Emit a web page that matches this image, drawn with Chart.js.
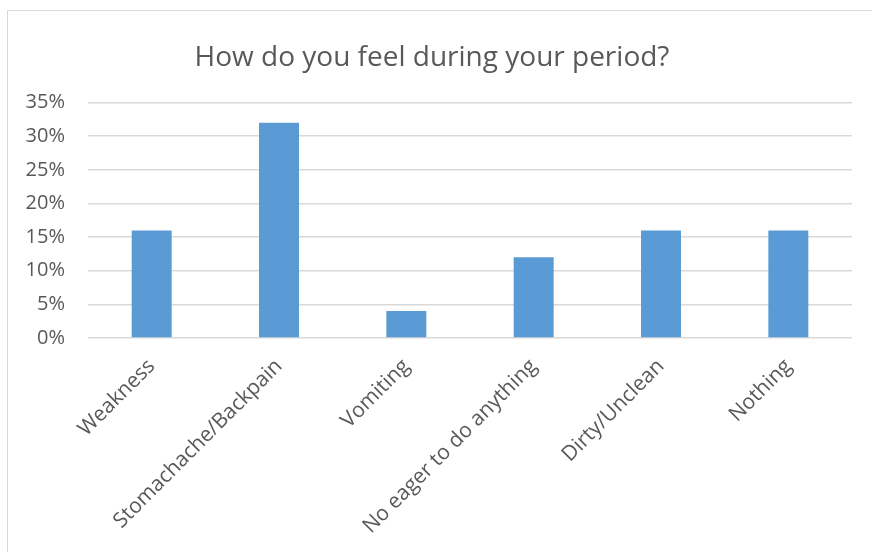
<!DOCTYPE html>
<html>
<head>
<meta charset="utf-8">
<script src="https://cdn.jsdelivr.net/npm/chart.js@4/dist/chart.umd.min.js"></script>
<style>
  html, body { margin: 0; padding: 0; background: #ffffff; }
  #wrap { position: relative; width: 872px; height: 552px; overflow: hidden; }
  #frame { position: absolute; left: 7px; top: 10px; width: 900px; height: 600px;
           border: 1.5px solid #d9d9d9; box-sizing: border-box; }
  #c { position: absolute; left: 0; top: 0; }
</style>
</head>
<body>
<div id="wrap">
  <div id="frame"></div>
  <canvas id="c" width="872" height="552"></canvas>
</div>
<script>
// Survey answers (percent of respondents)
const categories = [
  "Weakness",
  "Stomachache/Backpain",
  "Vomiting",
  "No eager to do anything",
  "Dirty/Unclean",
  "Nothing"
];
const shares = [16, 32, 4, 12, 16, 16];
const yTicks = [0, 5, 10, 15, 20, 25, 30, 35];

const textColor = "#595959";
const gridColor = "#d9d9d9";
const fontFamily = "'Open Sans', sans-serif";

new Chart(document.getElementById("c"), {
  type: "bar",
  data: {
    labels: categories,
    datasets: [{
      data: shares,
      backgroundColor: "#5b9bd5",
      borderWidth: 0,
      categoryPercentage: 1,
      barPercentage: 0.314
    }]
  },
  options: {
    responsive: false,
    animation: false,
    layout: { padding: { left: 12, right: 20, top: 0, bottom: 0 } },
    plugins: {
      legend: { display: false },
      tooltip: { enabled: false },
      title: {
        display: true,
        text: "How do you feel during your period?",
        color: textColor,
        font: { family: fontFamily, size: 28, weight: "normal" },
        padding: { top: 41, bottom: 28 }
      }
    },
    scales: {
      x: {
        grid: { display: false, drawTicks: false },
        border: { display: false },
        ticks: {
          color: textColor,
          font: { family: fontFamily, size: 21 },
          maxRotation: 45,
          minRotation: 45,
          autoSkip: false,
          padding: 16
        },
        afterFit(scale) { scale.height = 214; }
      },
      y: {
        min: 0,
        max: 35,
        afterBuildTicks(scale) { scale.ticks = yTicks.map(v => ({ value: v })); },
        grid: { color: gridColor, lineWidth: 1.5, drawTicks: false },
        border: { display: false },
        ticks: {
          color: textColor,
          font: { family: fontFamily, size: 20 },
          padding: 23,
          callback: v => v + "%"
        },
        afterFit(scale) { scale.width = 76; }
      }
    }
  }
});
</script>
</body>
</html>
